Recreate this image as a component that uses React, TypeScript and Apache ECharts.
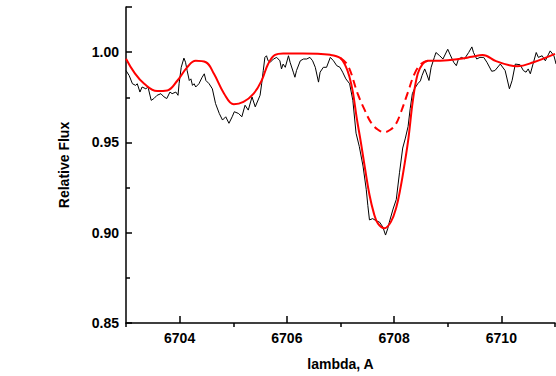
import React, { useEffect, useRef } from "react";
import * as echarts from "echarts";

// Observed spectrum: [wavelength (A), relative flux]
const observed: [number, number][] = [
  [6703.00, 0.9898], [6703.06, 0.9870], [6703.12, 0.9825], [6703.18, 0.9816], [6703.21, 0.9825],
  [6703.26, 0.9779], [6703.30, 0.9807], [6703.37, 0.9797], [6703.41, 0.9807], [6703.47, 0.9733],
  [6703.52, 0.9743], [6703.58, 0.9761], [6703.65, 0.9770], [6703.71, 0.9752], [6703.76, 0.9743],
  [6703.82, 0.9779], [6703.86, 0.9770], [6703.93, 0.9779], [6703.97, 0.9761], [6703.99, 0.9825],
  [6704.03, 0.9916], [6704.08, 0.9967], [6704.11, 0.9944], [6704.14, 0.9898], [6704.18, 0.9843],
  [6704.21, 0.9852], [6704.24, 0.9816], [6704.27, 0.9825], [6704.30, 0.9807], [6704.36, 0.9825],
  [6704.42, 0.9861], [6704.46, 0.9880], [6704.49, 0.9843], [6704.55, 0.9825], [6704.61, 0.9797],
  [6704.67, 0.9715], [6704.74, 0.9660], [6704.80, 0.9624], [6704.86, 0.9642], [6704.92, 0.9606],
  [6704.98, 0.9642], [6705.02, 0.9670], [6705.10, 0.9660], [6705.16, 0.9642], [6705.22, 0.9706],
  [6705.28, 0.9679], [6705.35, 0.9752], [6705.41, 0.9697], [6705.50, 0.9761], [6705.53, 0.9825],
  [6705.56, 0.9898], [6705.59, 0.9971], [6705.62, 0.9980], [6705.65, 0.9952], [6705.69, 0.9944],
  [6705.75, 0.9962], [6705.81, 0.9971], [6705.87, 0.9952], [6705.90, 0.9907], [6705.93, 0.9934],
  [6705.97, 0.9916], [6706.03, 0.9980], [6706.06, 0.9944], [6706.12, 0.9889], [6706.15, 0.9861],
  [6706.18, 0.9898], [6706.25, 0.9952], [6706.31, 0.9962], [6706.37, 0.9962], [6706.43, 0.9971],
  [6706.48, 0.9952], [6706.53, 0.9916], [6706.59, 0.9834], [6706.62, 0.9889], [6706.68, 0.9916],
  [6706.74, 0.9916], [6706.81, 0.9971], [6706.87, 0.9952], [6706.93, 0.9925], [6706.99, 0.9916],
  [6707.04, 0.9889], [6707.10, 0.9852], [6707.17, 0.9825], [6707.23, 0.9733], [6707.29, 0.9551],
  [6707.35, 0.9478], [6707.42, 0.9369], [6707.48, 0.9240], [6707.51, 0.9150], [6707.54, 0.9071],
  [6707.60, 0.9078], [6707.66, 0.9067], [6707.73, 0.9058], [6707.79, 0.9031], [6707.84, 0.8987],
  [6707.88, 0.9022], [6707.91, 0.9058], [6707.98, 0.9131], [6708.04, 0.9184], [6708.10, 0.9332],
  [6708.16, 0.9469], [6708.21, 0.9524], [6708.26, 0.9588], [6708.30, 0.9688], [6708.34, 0.9770],
  [6708.38, 0.9797], [6708.44, 0.9825], [6708.49, 0.9841], [6708.52, 0.9870], [6708.57, 0.9907],
  [6708.60, 0.9885], [6708.65, 0.9843], [6708.69, 0.9916], [6708.75, 0.9971], [6708.78, 0.9998],
  [6708.85, 0.9980], [6708.91, 0.9962], [6709.00, 1.0016], [6709.04, 0.9989], [6709.11, 0.9944],
  [6709.16, 0.9925], [6709.20, 0.9962], [6709.26, 0.9971], [6709.31, 0.9962], [6709.39, 0.9998],
  [6709.45, 1.0029], [6709.48, 0.9998], [6709.54, 0.9962], [6709.60, 0.9971], [6709.67, 0.9971],
  [6709.73, 0.9944], [6709.82, 0.9894], [6709.88, 0.9898], [6709.98, 0.9934], [6710.07, 0.9898],
  [6710.15, 0.9797], [6710.20, 0.9843], [6710.26, 0.9934], [6710.35, 0.9930], [6710.41, 0.9898],
  [6710.46, 0.9889], [6710.50, 0.9907], [6710.54, 0.9880], [6710.59, 0.9934], [6710.65, 0.9998],
  [6710.69, 0.9971], [6710.76, 0.9980], [6710.82, 0.9952], [6710.88, 0.9989], [6710.91, 1.0007],
  [6710.98, 0.9980], [6711.02, 0.9934],
];

// Synthetic fit (solid red)
const modelFit: [number, number][] = [
  [6703.00, 0.9963], [6703.15, 0.9889], [6703.34, 0.9825], [6703.58, 0.9785], [6703.77, 0.9788],
  [6703.96, 0.9843], [6704.14, 0.9916], [6704.30, 0.9952], [6704.49, 0.9944], [6704.64, 0.9880],
  [6704.83, 0.9770], [6705.01, 0.9711], [6705.19, 0.9724], [6705.38, 0.9770], [6705.53, 0.9843],
  [6705.65, 0.9934], [6705.78, 0.9985], [6705.93, 0.9993], [6706.30, 0.9993], [6706.81, 0.9985],
  [6707.00, 0.9967], [6707.10, 0.9920], [6707.17, 0.9860], [6707.23, 0.9780], [6707.30, 0.9640],
  [6707.38, 0.9500], [6707.46, 0.9350], [6707.54, 0.9210], [6707.62, 0.9110], [6707.70, 0.9050],
  [6707.82, 0.9025], [6707.94, 0.9060], [6708.04, 0.9140], [6708.12, 0.9250], [6708.20, 0.9390],
  [6708.27, 0.9530], [6708.35, 0.9733], [6708.44, 0.9880], [6708.53, 0.9934], [6708.63, 0.9952],
  [6708.86, 0.9953], [6709.20, 0.9962], [6709.45, 0.9974], [6709.65, 0.9984], [6709.90, 0.9950],
  [6710.15, 0.9927], [6710.30, 0.9922], [6710.60, 0.9944], [6711.00, 0.9990],
];

// Alternative fit in the line core (dashed red)
const modelAlt: [number, number][] = [
  [6707.00, 0.9967], [6707.14, 0.9925], [6707.32, 0.9770], [6707.45, 0.9680], [6707.57, 0.9610],
  [6707.70, 0.9570], [6707.82, 0.9557], [6707.93, 0.9570], [6708.03, 0.9600], [6708.13, 0.9670],
  [6708.26, 0.9780], [6708.38, 0.9880], [6708.50, 0.9934], [6708.63, 0.9952],
];

const xMin = 6703;
const xMax = 6711;
const xMajorTicks = [6704, 6706, 6708, 6710];
const xMinorTicks = [6703, 6705, 6707, 6709, 6711];
const yMin = 0.85;
const yMax = 1.025;

export default function App() {
  const ref = useRef<HTMLDivElement>(null);
  useEffect(() => {
    if (!ref.current) return;
    const chart = echarts.init(ref.current, undefined, { renderer: "svg" });
    const font = { fontFamily: "Liberation Sans, Arial, sans-serif", fontWeight: "bold" as const, fontSize: 14, color: "#000" };
    const gridBox = { left: 126, right: 1, top: 7, bottom: 49 };
    chart.setOption({
      animation: false,
      backgroundColor: "#fff",
      grid: [gridBox, gridBox],
      xAxis: [
        {
          type: "value",
          gridIndex: 0,
          min: xMin,
          max: xMax,
          position: "bottom",
          name: "lambda, A",
          nameLocation: "middle",
          nameGap: 34,
          nameTextStyle: { ...font },
          axisLine: { show: true, lineStyle: { color: "#000", width: 1.5 } },
          axisTick: { show: true, inside: true, length: 7, customValues: xMajorTicks, lineStyle: { color: "#000", width: 1.5 } },
          axisLabel: { ...font, margin: 8, customValues: xMajorTicks, formatter: (v: number) => String(v) },
          splitLine: { show: false },
        },
        {
          type: "value",
          gridIndex: 1,
          min: xMin,
          max: xMax,
          position: "bottom",
          axisLine: { show: false },
          axisTick: { show: true, inside: true, length: 4, customValues: xMinorTicks, lineStyle: { color: "#000", width: 1.5 } },
          axisLabel: { show: false },
          splitLine: { show: false },
        },
      ],
      yAxis: [
        {
          type: "value",
          gridIndex: 0,
          min: yMin,
          max: yMax,
          interval: 0.05,
          name: "Relative Flux",
          nameLocation: "middle",
          nameGap: 55,
          nameTextStyle: { ...font },
          axisLine: { show: true, lineStyle: { color: "#000", width: 1.5 } },
          axisTick: { show: true, inside: true, length: 6, lineStyle: { color: "#000", width: 1.5 } },
          minorTick: { show: true, splitNumber: 2, length: 4, lineStyle: { color: "#000", width: 1.5 } },
          axisLabel: { ...font, margin: 7, formatter: (v: number) => (v > 1.01 ? "" : v.toFixed(2)) },
          splitLine: { show: false },
        },
        {
          type: "value",
          gridIndex: 1,
          min: yMin,
          max: yMax,
          show: false,
        },
      ],
      series: [
        {
          type: "line",
          data: observed,
          showSymbol: false,
          lineStyle: { color: "#000", width: 1 },
          z: 2,
        },
        {
          type: "line",
          data: modelFit,
          showSymbol: false,
          smooth: 0.4,
          lineStyle: { color: "#ff0000", width: 2 },
          z: 3,
        },
        {
          type: "line",
          data: modelAlt,
          showSymbol: false,
          smooth: 0.4,
          lineStyle: { color: "#ff0000", width: 2, type: [8, 5] },
          z: 3,
        },
      ],
    });
    return () => chart.dispose();
  }, []);
  return <div ref={ref} style={{ width: 556, height: 376, position: "absolute", left: 0, top: 0 }} />;
}
